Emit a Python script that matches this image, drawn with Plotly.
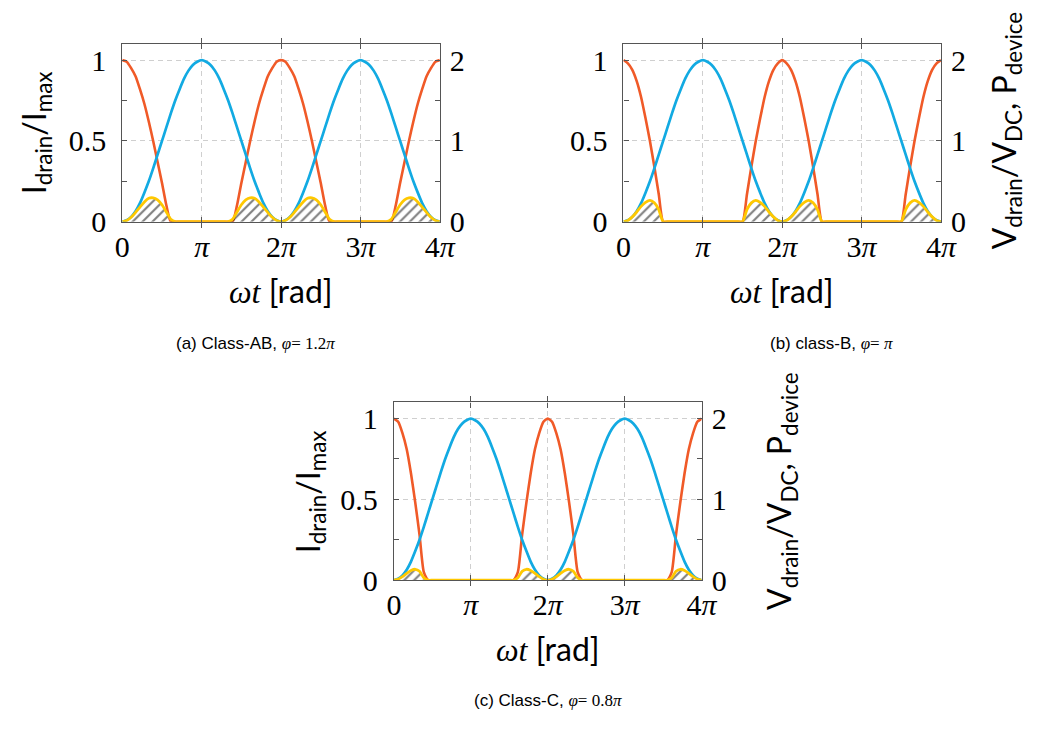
import plotly.graph_objects as go

wt_deg = list(range(0, 721, 10))          # ωt in degrees, 0 … 4π
x_tick_vals = [0, 180, 360, 540, 720]
x_tick_text = ["0", "<i>π</i>", "2<i>π</i>", "3<i>π</i>", "4<i>π</i>"]
left_tick_vals = [0, 0.5, 1]
left_tick_text = ["0", "0.5", "1"]
right_tick_vals = [0, 1, 2]
right_tick_text = ["0", "1", "2"]

# V_drain / V_DC (same in all panels), right axis
v_drain_period = [0, 0.02, 0.06, 0.13, 0.23, 0.36, 0.5, 0.66, 0.83, 1.0, 1.17, 1.34, 1.5,
                  1.64, 1.77, 1.87, 1.94, 1.98, 2.0, 1.98, 1.94, 1.87, 1.77, 1.64, 1.5,
                  1.34, 1.17, 1.0, 0.83, 0.66, 0.5, 0.36, 0.23, 0.13, 0.06, 0.02, 0]

# I_drain / I_max, left axis
i_ab_period = [1, 0.99, 0.95, 0.90, 0.82, 0.73, 0.62, 0.50, 0.37, 0.24, 0.10,
               0, 0, 0, 0, 0, 0, 0, 0, 0, 0, 0, 0, 0, 0, 0,
               0.10, 0.24, 0.37, 0.50, 0.62, 0.73, 0.82, 0.90, 0.95, 0.99, 1]
i_b_period = [1, 0.98, 0.94, 0.87, 0.77, 0.64, 0.50, 0.34, 0.17,
              0, 0, 0, 0, 0, 0, 0, 0, 0, 0, 0, 0, 0, 0, 0, 0, 0, 0, 0,
              0.17, 0.34, 0.50, 0.64, 0.77, 0.87, 0.94, 0.98, 1]
i_c_period = [1, 0.98, 0.91, 0.81, 0.66, 0.48, 0.28, 0.05,
              0, 0, 0, 0, 0, 0, 0, 0, 0, 0, 0, 0, 0, 0, 0, 0, 0, 0, 0, 0, 0,
              0.05, 0.28, 0.48, 0.66, 0.81, 0.91, 0.98, 1]

# P_device, right axis
p_ab_period = [0, 0.015, 0.055, 0.115, 0.18, 0.245, 0.29, 0.295, 0.27, 0.21, 0.12, 0.03,
               0, 0, 0, 0, 0, 0, 0, 0, 0, 0, 0, 0, 0,
               0.03, 0.12, 0.21, 0.27, 0.295, 0.29, 0.245, 0.18, 0.115, 0.055, 0.015, 0]
p_b_period = [0, 0.016, 0.06, 0.12, 0.19, 0.24, 0.265, 0.235, 0.15,
              0, 0, 0, 0, 0, 0, 0, 0, 0, 0, 0, 0, 0, 0, 0, 0, 0, 0, 0,
              0.15, 0.235, 0.265, 0.24, 0.19, 0.12, 0.06, 0.016, 0]
p_c_period = [0, 0.012, 0.045, 0.085, 0.12, 0.135, 0.11, 0.03,
              0, 0, 0, 0, 0, 0, 0, 0, 0, 0, 0, 0, 0, 0, 0, 0, 0, 0, 0, 0, 0,
              0.03, 0.11, 0.135, 0.12, 0.085, 0.045, 0.012, 0]


def two_periods(period):
    return period + period[1:]


v_drain = two_periods(v_drain_period)

# ---------------- layout helpers -------------
W, H = 1041, 731
ORANGE = "#F05A28"
BLUE = "#12AAE2"
YELLOW = "#FFC800"
FRAME = "#555555"
GRID = "#cfcfcf"
SERIF = "Liberation Serif"
SANS = "Lato"
NARROW = "Liberation Sans Narrow, Liberation Sans, Arial Narrow, sans-serif"
TICK_SIZE = 30
TITLE_SIZE = 32


def fx(p):
    return p / W


def fy(p):
    return 1 - p / H


panels = [
    dict(box=(117, 442, 45, 227), i=two_periods(i_ab_period), p=two_periods(p_ab_period),
         left_title=(28, 136), right_title=None,
         caption="(a) Class-AB, <span style=\"font-family:'Liberation Serif'\"><i>φ</i>= 1.2<i>π</i></span>",
         cap=(253, 352)),
    dict(box=(630, 955, 45, 227), i=two_periods(i_b_period), p=two_periods(p_b_period),
         left_title=None, right_title=(1021, 133),
         caption="(b) class-B, <span style=\"font-family:'Liberation Serif'\"><i>φ</i>= <i>π</i></span>",
         cap=(843, 352)),
    dict(box=(395, 710, 412, 594), i=two_periods(i_c_period), p=two_periods(p_c_period),
         left_title=(309, 503), right_title=(792, 503),
         caption="(c) Class-C, <span style=\"font-family:'Liberation Serif'\"><i>φ</i>= 0.8<i>π</i></span>",
         cap=(553, 717)),
]

fig = go.Figure()
annotations = []
layout_axes = {}

for k, pan in enumerate(panels, start=1):
    x0, x1, y0, y1 = pan["box"]
    xname = "x" if k == 1 else f"x{k}"
    yl_num = 2 * k - 1
    yr_num = 2 * k
    yl = "y" if yl_num == 1 else f"y{yl_num}"
    yr = f"y{yr_num}"

    # traces
    fig.add_trace(go.Scatter(x=wt_deg, y=pan["i"], xaxis=xname, yaxis=yl, mode="lines",
                             line=dict(color=ORANGE, width=2.6, shape="spline", smoothing=0.6),
                             showlegend=False, hoverinfo="skip"))
    fig.add_trace(go.Scatter(x=wt_deg, y=pan["p"], xaxis=xname, yaxis=yr, mode="lines",
                             line=dict(width=0, shape="spline", smoothing=0.6),
                             fill="tozeroy", fillcolor="rgba(0,0,0,0)",
                             fillpattern=dict(shape="/", fgcolor="black", size=7, solidity=0.3),
                             showlegend=False, hoverinfo="skip"))
    fig.add_trace(go.Scatter(x=wt_deg, y=v_drain, xaxis=xname, yaxis=yr, mode="lines",
                             line=dict(color=BLUE, width=2.7, shape="spline", smoothing=0.6),
                             showlegend=False, hoverinfo="skip"))
    fig.add_trace(go.Scatter(x=wt_deg, y=pan["p"], xaxis=xname, yaxis=yr, mode="lines",
                             line=dict(color=YELLOW, width=2.8, shape="spline", smoothing=0.6),
                             showlegend=False, hoverinfo="skip"))

    xkey = "xaxis" if k == 1 else f"xaxis{k}"
    ylkey = "yaxis" if yl_num == 1 else f"yaxis{yl_num}"
    yrkey = f"yaxis{yr_num}"
    layout_axes[xkey] = dict(
        domain=[fx(x0), fx(x1)], anchor=yl, range=[0, 720],
        tickvals=x_tick_vals, ticktext=x_tick_text,
        ticks="inside", ticklen=5, tickcolor=FRAME, tickwidth=1,
        showline=True, linecolor=FRAME, linewidth=1.2, mirror="allticks",
        showgrid=True, gridcolor=GRID, griddash="5px,4px", gridwidth=1,
        zeroline=False, ticklabelstandoff=-2,
        tickfont=dict(family=SERIF, size=TICK_SIZE, color="black"),
    )
    layout_axes[ylkey] = dict(
        domain=[fy(y1), fy(y0)], anchor=xname, range=[0, 1.1],
        tickvals=left_tick_vals, ticktext=left_tick_text,
        ticks="inside", ticklen=5, tickcolor=FRAME, tickwidth=1,
        minor=dict(tickvals=[0.25, 0.75], ticks="inside", ticklen=5, tickcolor=FRAME, showgrid=False),
        showline=True, linecolor=FRAME, linewidth=1.2, mirror="allticks",
        showgrid=True, gridcolor=GRID, griddash="5px,4px", gridwidth=1,
        zeroline=False, ticklabelstandoff=9,
        tickfont=dict(family=SERIF, size=TICK_SIZE, color="black"),
    )
    layout_axes[yrkey] = dict(
        domain=[fy(y1), fy(y0)], anchor=xname, overlaying=yl, side="right", range=[0, 2.2],
        tickvals=right_tick_vals, ticktext=right_tick_text, ticks="",
        showline=False, showgrid=False, zeroline=False, ticklabelstandoff=9,
        tickfont=dict(family=SERIF, size=TICK_SIZE, color="black"),
    )

    # x title
    annotations.append(dict(
        text="<span style=\"font-family:'Liberation Serif'\"><i>ωt</i></span> [rad]",
        x=fx((x0 + x1) / 2), y=fy(y1 + 70), xref="paper", yref="paper",
        xanchor="center", yanchor="middle", showarrow=False,
        font=dict(family=SANS, size=TITLE_SIZE, color="black")))
    if pan["left_title"]:
        lx, ly = pan["left_title"]
        annotations.append(dict(
            text="I<sub>drain</sub>/I<sub>max</sub>", textangle=-90,
            x=fx(lx), y=fy(ly), xref="paper", yref="paper",
            xanchor="center", yanchor="middle", showarrow=False,
            font=dict(family=SANS, size=TITLE_SIZE, color="black")))
    if pan["right_title"]:
        rx, ry = pan["right_title"]
        annotations.append(dict(
            text="V<sub>drain</sub>/V<sub>DC</sub>, P<sub>device</sub>", textangle=-90,
            x=fx(rx), y=fy(ry), xref="paper", yref="paper",
            xanchor="center", yanchor="middle", showarrow=False,
            font=dict(family=SANS, size=TITLE_SIZE, color="black")))
    cx, cy = pan["cap"]
    annotations.append(dict(
        text=pan["caption"], x=fx(cx), y=fy(cy), xref="paper", yref="paper",
        xanchor="center", yanchor="middle", showarrow=False,
        font=dict(family=NARROW, size=17, color="black")))

fig.update_layout(
    width=W, height=H,
    margin=dict(l=0, r=0, t=0, b=0),
    paper_bgcolor="white", plot_bgcolor="white",
    annotations=annotations,
    **layout_axes,
)

# page without the default 8px body margin, so the figure fills the window exactly
fig.write_html("out.html",
               config={"displayModeBar": False},
               post_script="document.body.style.margin='0';document.body.style.overflow='hidden';")
